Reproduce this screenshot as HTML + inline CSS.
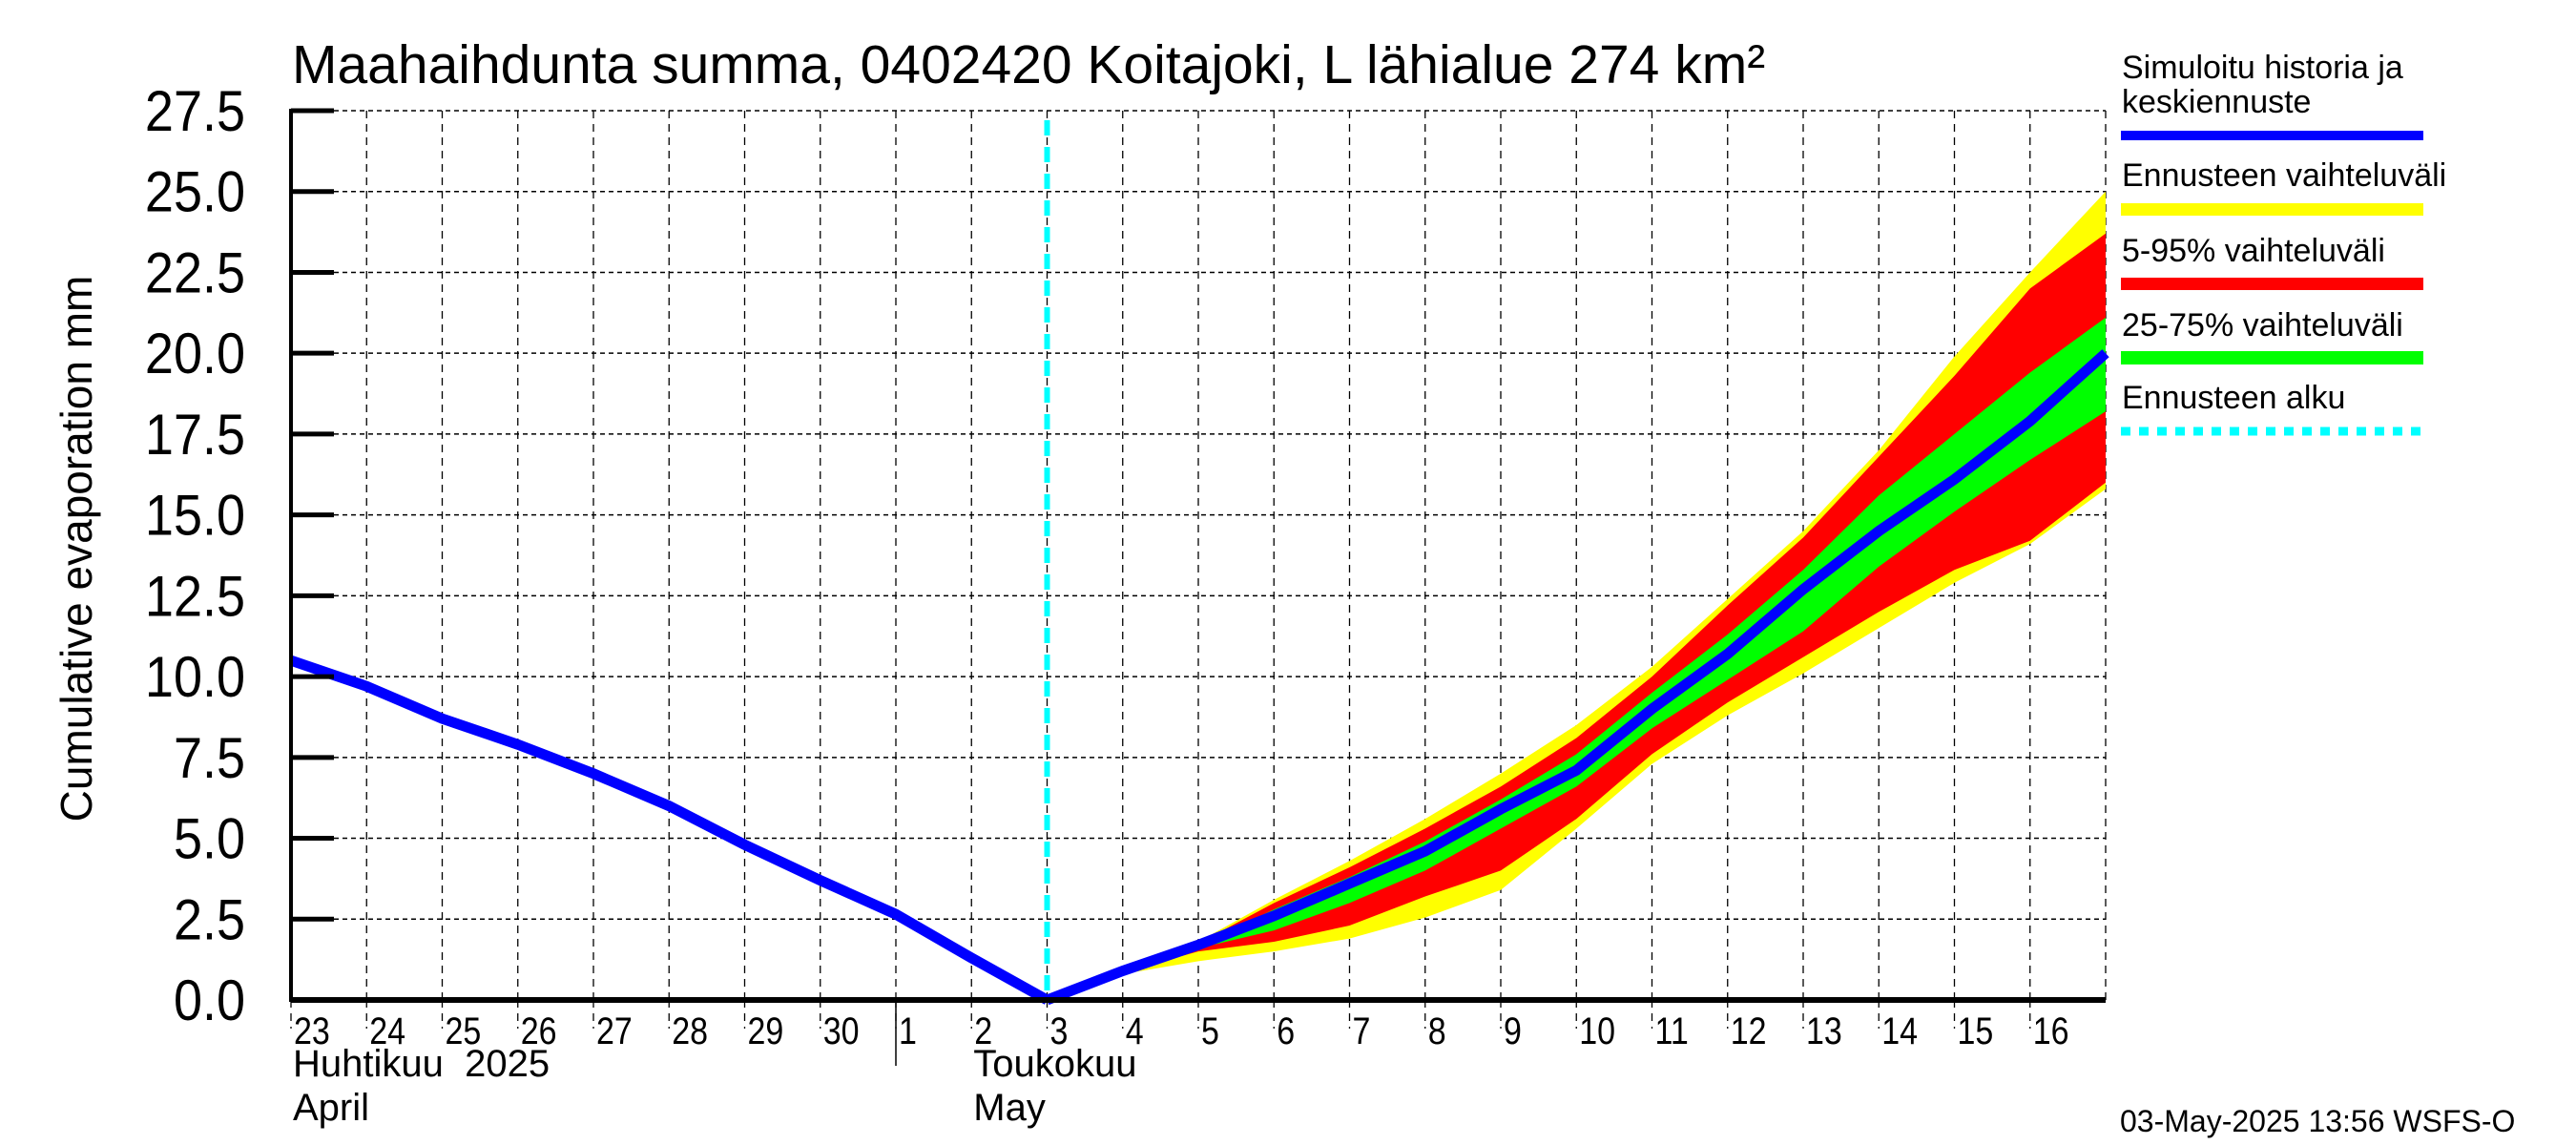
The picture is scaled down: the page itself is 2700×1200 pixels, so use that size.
<!DOCTYPE html>
<html><head><meta charset="utf-8"><style>
html,body{margin:0;padding:0;background:#fff;}
svg{display:block;font-family:"Liberation Sans",sans-serif;}
</style></head><body>
<svg id="chart" width="2700" height="1200" viewBox="0 0 2700 1200" xmlns="http://www.w3.org/2000/svg">
<text x="306" y="87" font-size="57">Maahaihdunta summa, 0402420 Koitajoki, L lähialue 274 km²</text>
<text transform="translate(96,575) rotate(-90)" text-anchor="middle" font-size="46">Cumulative evaporation   mm</text>
<g id="grid"></g>
<g id="bands"></g>
<g id="lines"></g>
<g id="axes"></g>
<g font-size="34">
<text x="2224" y="82">Simuloitu historia ja</text>
<text x="2224" y="118">keskiennuste</text>
<rect x="2223" y="137" width="317" height="10" fill="#0000ff"/>
<text x="2224" y="195">Ennusteen vaihteluväli</text>
<rect x="2223" y="213" width="317" height="13" fill="#ffff00"/>
<text x="2224" y="274">5-95% vaihteluväli</text>
<rect x="2223" y="291" width="317" height="13" fill="#ff0000"/>
<text x="2224" y="352">25-75% vaihteluväli</text>
<rect x="2223" y="368" width="317" height="14" fill="#00ff00"/>
<text x="2224" y="428">Ennusteen alku</text>
<line x1="2223" y1="452" x2="2540" y2="452" stroke="#00ffff" stroke-width="9" stroke-dasharray="10,9"/>
</g>
<text x="2222" y="1186" font-size="32">03-May-2025 13:56 WSFS-O</text>
</svg>
<script>
const dayLabels=["23","24","25","26","27","28","29","30","1","2","3","4","5","6","7","8","9","10","11","12","13","14","15","16"];
const yTicks=[0,2.5,5,7.5,10,12.5,15,17.5,20,22.5,25,27.5];
const yTickLabels=["0.0","2.5","5.0","7.5","10.0","12.5","15.0","17.5","20.0","22.5","25.0","27.5"];
const histDays=[0,1,2,3,4,5,6,7,8,9,10];
const histVals=[10.5,9.7,8.7,7.9,7.0,6.0,4.8,3.7,2.65,1.3,0];
const fcDays=[10,11,12,13,14,15,16,17,18,19,20,21,22,23,24];
const fcMedian=[0,0.9,1.7,2.6,3.6,4.6,5.9,7.1,9.0,10.7,12.7,14.5,16.1,17.9,20.0];
const yellowMax=[0,0.95,1.8,3.1,4.3,5.6,7.0,8.5,10.3,12.4,14.5,17.0,19.9,22.5,25.0];
const redMax=[0,0.95,1.75,3.0,4.1,5.3,6.6,8.1,10.0,12.2,14.3,16.8,19.3,22.0,23.7];
const greenMax=[0,0.9,1.7,2.8,3.8,4.9,6.2,7.6,9.5,11.3,13.3,15.6,17.5,19.4,21.1];
const greenMin=[0,0.9,1.6,2.15,3.0,4.0,5.3,6.6,8.4,9.9,11.4,13.4,15.1,16.7,18.2];
const redMin=[0,0.85,1.5,1.8,2.3,3.2,4.0,5.6,7.6,9.2,10.6,12.0,13.3,14.2,16.0];
const yellowMin=[0,0.8,1.2,1.5,1.9,2.55,3.4,5.3,7.3,8.8,10.1,11.5,12.9,14.1,15.8];
const forecastStartDay=10;

const L=305,R=2207,T=116,B=1048,NDAYS=24,YMAX=27.5;
const X=d=>L+(R-L)*d/NDAYS;
const Y=v=>B-(B-T)*v/YMAX;
const NS="http://www.w3.org/2000/svg";
function mk(parent,tag,attrs){const e=document.createElementNS(NS,tag);for(const k in attrs)e.setAttribute(k,attrs[k]);document.getElementById(parent).appendChild(e);return e;}

for(let i=1;i<=NDAYS;i++){
  const e=mk("grid","line",{x1:X(i),y1:T,x2:X(i),y2:B,stroke:"#000","stroke-width":1.3,"stroke-dasharray":"8,6"});
  
  
}
yTicks.forEach((v,i)=>{
  if(v>0){const e=mk("grid","line",{x1:L,y1:Y(v),x2:R,y2:Y(v),stroke:"#000","stroke-width":1.5,"stroke-dasharray":"5,4"});
  
  }
  const t=mk("axes","line",{x1:L,y1:Y(v),x2:L+45,y2:Y(v),stroke:"#000","stroke-width":5});
  
  
  const l=mk("axes","text",{x:0,y:0,"text-anchor":"end","font-size":60,transform:"translate(257,"+(Y(v)+21)+") scale(0.9,1)"});
  
  
  l.textContent=yTickLabels[i];
});
function band(up,lo,color,name){
  let pts=fcDays.map((d,i)=>X(d)+","+Y(up[i]));
  for(let i=fcDays.length-1;i>=0;i--)pts.push(X(fcDays[i])+","+Y(lo[i]));
  const e=mk("bands","polygon",{points:pts.join(" "),fill:color});
  
  
}
band(yellowMax,yellowMin,"#ffff00","band-full-range");
band(redMax,redMin,"#ff0000","band-5-95");
band(greenMax,greenMin,"#00ff00","band-25-75");
const fl=mk("lines","line",{x1:X(forecastStartDay),y1:T+10,x2:X(forecastStartDay),y2:B,stroke:"#00ffff","stroke-width":6,"stroke-dasharray":"16,12"});


const h=mk("lines","polyline",{points:histDays.map((d,i)=>X(d)+","+Y(histVals[i])).join(" "),fill:"none",stroke:"#0000ff","stroke-width":11,"stroke-linejoin":"miter"});


const m=mk("lines","polyline",{points:fcDays.map((d,i)=>X(d)+","+Y(fcMedian[i])).join(" "),fill:"none",stroke:"#0000ff","stroke-width":11});



const ya=mk("axes","line",{x1:L,y1:T-2,x2:L,y2:B+2,stroke:"#000","stroke-width":4});


const xa=mk("axes","line",{x1:L,y1:B,x2:R,y2:B,stroke:"#000","stroke-width":6});


dayLabels.forEach((s,i)=>{
  const tk=mk("axes","line",{x1:X(i),y1:B,x2:X(i),y2:B+30,stroke:"#000","stroke-width":1.3,"stroke-dasharray":"8,6"});
  
  
  const t=mk("axes","text",{x:0,y:0,"font-size":40,transform:"translate("+(X(i)+3)+",1094) scale(0.85,1)"});
  
  
  t.textContent=s;
});
const sep=mk("axes","line",{x1:X(8),y1:B,x2:X(8),y2:1117,stroke:"#000","stroke-width":1.5});


[["Huhtikuu  2025",X(0)+2,1128,"month-label-fi-april"],["April",X(0)+2,1174,"month-label-en-april"],["Toukokuu",X(9)+2,1128,"month-label-fi-may"],["May",X(9)+2,1174,"month-label-en-may"]].forEach(a=>{
  const t=mk("axes","text",{x:a[1],y:a[2],"font-size":40});
  
  
  t.style.whiteSpace="pre";
  t.textContent=a[0];
});
</script>
</body></html>
